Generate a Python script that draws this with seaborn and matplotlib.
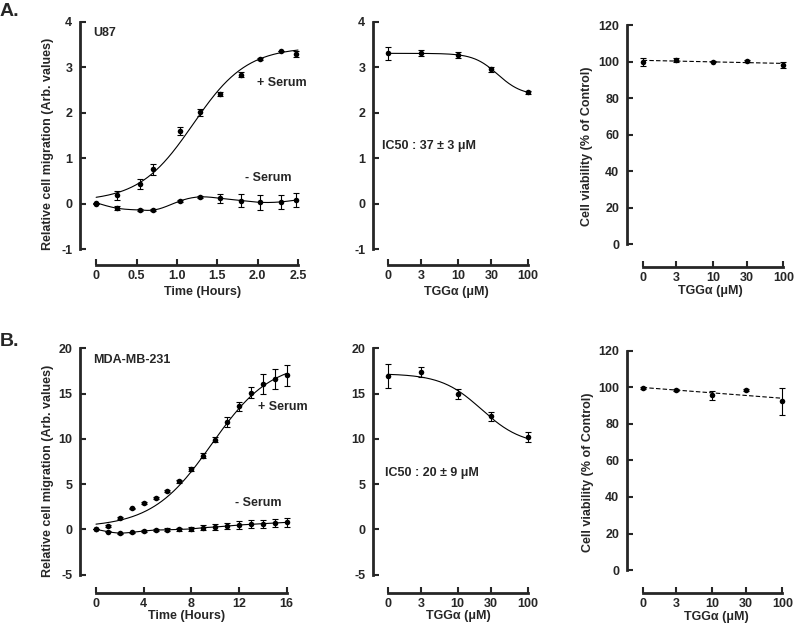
import numpy as np
import matplotlib
matplotlib.use("Agg")
import matplotlib.pyplot as plt
import seaborn as sns

# --- U87 time course ---
u87_time = [0, 0.26, 0.54, 0.71, 1.04, 1.29, 1.53, 1.79, 2.03, 2.29, 2.48]
u87_plus = [0.0, 0.19, 0.43, 0.76, 1.60, 2.01, 2.41, 2.84, 3.18, 3.36, 3.30]
u87_plus_err = [0, 0.10, 0.11, 0.12, 0.08, 0.07, 0.05, 0.05, 0.02, 0.0, 0.065]
u87_minus = [0.02, -0.10, -0.14, -0.14, 0.06, 0.15, 0.12, 0.07, 0.03, 0.04, 0.08]
u87_minus_err = [0, 0.05, 0.03, 0.02, 0.02, 0.02, 0.095, 0.15, 0.16, 0.16, 0.16]
u87_fit = {"bottom": 0.05, "top": 3.45, "mid": 1.2, "slope": 3.0}

# --- MDA-MB-231 time course ---
mda_time = list(range(17))
mda_plus = [0.0, 0.36, 1.21, 2.31, 2.9, 3.42, 4.22, 5.3, 6.69, 8.11, 9.92,
            11.86, 13.6, 15.1, 16.05, 16.6, 17.0]
mda_plus_err = [0, 0.1, 0.1, 0.1, 0.1, 0.1, 0.15, 0.2, 0.25, 0.28, 0.3,
                0.5, 0.5, 0.64, 1.08, 1.07, 1.2]
mda_minus = [0.0, -0.26, -0.41, -0.33, -0.19, -0.08, -0.05, 0.0, 0.05, 0.18,
             0.26, 0.37, 0.48, 0.55, 0.62, 0.70, 0.77]
mda_minus_err = [0, 0.05, 0.05, 0.08, 0.1, 0.12, 0.15, 0.15, 0.2, 0.25, 0.3,
                 0.35, 0.4, 0.45, 0.45, 0.45, 0.5]
mda_fit = {"bottom": 0.2, "top": 18.6, "mid": 9.7, "slope": 0.40}

# --- dose response (TGG alpha) ---
doses = [0, 3, 10, 30, 100]
dose_labels = ["0", "3", "10", "30", "100"]
u87_dose_mig = [3.31, 3.31, 3.27, 2.96, 2.45]
u87_dose_err = [0.15, 0.066, 0.06, 0.06, 0.03]
u87_ic50_fit = {"top": 3.31, "bottom": 2.38, "ic50": 37, "hill": 2.5}
mda_dose_mig = [16.9, 17.4, 14.95, 12.5, 10.2]
mda_dose_err = [1.34, 0.55, 0.53, 0.5, 0.59]
mda_ic50_fit = {"top": 17.2, "bottom": 9.3, "ic50": 22, "hill": 1.5}

u87_viab = [99.8, 100.9, 100.0, 100.4, 98.0]
u87_viab_err = [2.2, 1.0, 0.5, 0.5, 1.8]
mda_viab = [99.7, 98.5, 95.7, 98.5, 92.4]
mda_viab_err = [0.5, 0.5, 2.4, 0.5, 7.3]

W, H = 794, 627
sns.set_style("ticks")
plt.rcParams["font.family"] = ["Liberation Sans", "DejaVu Sans"]
plt.rcParams["font.weight"] = "bold"
plt.rcParams["axes.labelweight"] = "bold"
plt.rcParams["axes.linewidth"] = 2.0
plt.rcParams["axes.unicode_minus"] = False

fig = plt.figure(figsize=(W / 100, H / 100), dpi=100)


def make_axes(left, right, top, bottom):
    return fig.add_axes([left / W, 1 - bottom / H, (right - left) / W, (bottom - top) / H])


def natural_spline(x, y, n=300):
    x = np.asarray(x, float)
    y = np.asarray(y, float)
    h = np.diff(x)
    m = len(x)
    A = np.zeros((m, m))
    r = np.zeros(m)
    A[0, 0] = A[-1, -1] = 1
    for i in range(1, m - 1):
        A[i, i - 1] = h[i - 1]
        A[i, i] = 2 * (h[i - 1] + h[i])
        A[i, i + 1] = h[i]
        r[i] = 6 * ((y[i + 1] - y[i]) / h[i] - (y[i] - y[i - 1]) / h[i - 1])
    M = np.linalg.solve(A, r)
    xs = np.linspace(x[0], x[-1], n)
    idx = np.clip(np.searchsorted(x, xs) - 1, 0, m - 2)
    x0, x1 = x[idx], x[idx + 1]
    hh = x1 - x0
    a = (x1 - xs) / hh
    b = (xs - x0) / hh
    ys = a * y[idx] + b * y[idx + 1] + ((a ** 3 - a) * M[idx] + (b ** 3 - b) * M[idx + 1]) * hh ** 2 / 6
    return xs, ys


def logistic(t, p):
    return p["bottom"] + (p["top"] - p["bottom"]) / (1 + np.exp(-p["slope"] * (t - p["mid"])))


def dose_response(d, p):
    return p["bottom"] + (p["top"] - p["bottom"]) / (1 + (d / p["ic50"]) ** p["hill"])


def points(ax, x, y, err):
    ax.errorbar(x, y, yerr=err, fmt="none", ecolor="black", elinewidth=0.8,
                capsize=2.3, capthick=0.8, clip_on=False, zorder=2)
    sns.scatterplot(x=x, y=y, color="black", s=16, linewidth=0, ax=ax,
                    zorder=3, clip_on=False)


def curve(ax, x, y, ls="-"):
    sns.lineplot(x=x, y=y, color="black", lw=0.8, ls=ls, ax=ax, sort=False,
                 estimator=None, zorder=1)
    for ln in ax.lines:
        ln.set_clip_on(False)


def style(ax, ybounds, xbounds, xlab_x, xlab_y, ylab_x=None):
    sns.despine(ax=ax)
    ax.spines["left"].set_bounds(*ybounds)
    ax.spines["bottom"].set_bounds(*xbounds)
    ax.tick_params(direction="in", length=4, width=1.5, labelsize=9)
    ax.tick_params(axis="x", pad=3.5)
    ax.tick_params(axis="y", pad=5.5)
    ax.tick_params(axis="x", which="minor", bottom=False)
    ax.xaxis.set_label_coords(xlab_x, xlab_y)
    if ylab_x is not None:
        ax.yaxis.set_label_coords(ylab_x, 0.5)


dose_pos = np.where(np.array(doses) == 0, 1, doses)  # 0 drawn at the log-axis origin
dose_fine = np.logspace(0, 2, 200)

# ---------------- Row A ----------------
ax = make_axes(80, 298, 22, 265)
t_fine = np.linspace(0, 2.5, 200)
curve(ax, t_fine, logistic(t_fine, u87_fit))
sx, sy = natural_spline(u87_time, u87_minus)
curve(ax, sx, sy)
points(ax, u87_time, u87_plus, u87_plus_err)
points(ax, u87_time, u87_minus, u87_minus_err)
ax.set_xlim(-0.2, 2.5)
ax.set_ylim(-1.35, 4)
ax.set_xticks([0, 0.5, 1.0, 1.5, 2.0, 2.5], ["0", "0.5", "1.0", "1.5", "2.0", "2.5"])
ax.set_yticks([-1, 0, 1, 2, 3, 4])
ax.set_xlabel("Time (Hours)", fontsize=9, va="top")
ax.set_ylabel("Relative cell migration (Arb. values)", fontsize=9)
style(ax, (-1, 4), (0, 2.5), 0.564, -0.088, -0.12)
ax.text(-0.04, 3.76, "U87", fontsize=9, va="center")
ax.text(1.99, 2.66, "+ Serum", fontsize=9, va="center")
ax.text(1.84, 0.56, "- Serum", fontsize=9, va="center")

ax = make_axes(373, 528, 22, 265)
curve(ax, dose_fine, dose_response(dose_fine, u87_ic50_fit))
points(ax, dose_pos, u87_dose_mig, u87_dose_err)
ax.set_xscale("log")
ax.set_xlim(0.61, 100)
ax.set_ylim(-1.35, 4)
ax.set_xticks(dose_pos, dose_labels)
ax.set_yticks([-1, 0, 1, 2, 3, 4])
ax.set_xlabel("TGG\u03b1 (\u03bcM)", fontsize=9)
style(ax, (-1, 4), (1, 100), 0.535, -0.088)
ax.text(0.82, 1.27, "IC50 : 37 \u00b1 3 \u03bcM", fontsize=9, va="center")

ax = make_axes(626.7, 783.3, 25, 266.7)
lin = np.polyfit(np.log10(dose_pos), u87_viab, 1)
curve(ax, dose_fine, np.polyval(lin, np.log10(dose_fine)), ls=(0, (4, 2)))
points(ax, dose_pos, u87_viab, u87_viab_err)
ax.set_xscale("log")
ax.set_xlim(0.592, 100)
ax.set_ylim(-12.3, 120)
ax.set_xticks(dose_pos, dose_labels)
ax.set_yticks(range(0, 121, 20))
ax.set_xlabel("TGG\u03b1 (\u03bcM)", fontsize=9)
ax.set_ylabel("Cell viability (% of Control)", fontsize=9)
style(ax, (0, 120), (1, 100), 0.537, -0.076, -0.213)

# ---------------- Row B ----------------
ax = make_axes(80, 286.7, 348.3, 592.7)
t_fine = np.linspace(0, 16, 200)
curve(ax, t_fine, logistic(t_fine, mda_fit))
sx, sy = natural_spline(mda_time, mda_minus)
curve(ax, sx, sy)
points(ax, mda_time, mda_plus, mda_plus_err)
points(ax, mda_time, mda_minus, mda_minus_err)
ax.set_xlim(-1.34, 16)
ax.set_ylim(-7.0, 20)
ax.set_xticks([0, 4, 8, 12, 16])
ax.set_yticks([-5, 0, 5, 10, 15, 20])
ax.set_xlabel("Time (Hours)", fontsize=9)
ax.set_ylabel("Relative cell migration (Arb. values)", fontsize=9)
style(ax, (-5, 20), (0, 16), 0.515, -0.072, -0.127)
ax.text(-0.25, 18.67, "MDA-MB-231", fontsize=9, va="center")
ax.text(13.6, 13.5, "+ Serum", fontsize=9, va="center")
ax.text(11.7, 2.87, "- Serum", fontsize=9, va="center")

ax = make_axes(373.3, 527.5, 348.3, 592.7)
curve(ax, dose_fine, dose_response(dose_fine, mda_ic50_fit))
points(ax, dose_pos, mda_dose_mig, mda_dose_err)
ax.set_xscale("log")
ax.set_xlim(0.622, 100)
ax.set_ylim(-7.0, 20)
ax.set_xticks(dose_pos, dose_labels)
ax.set_yticks([-5, 0, 5, 10, 15, 20])
ax.set_xlabel("TGG\u03b1 (\u03bcM)", fontsize=9)
style(ax, (-5, 20), (1, 100), 0.55, -0.072)
ax.text(0.91, 6.17, "IC50 : 20 \u00b1 9 \u03bcM", fontsize=9, va="center")

ax = make_axes(626.7, 782.3, 350.7, 593.3)
lin = np.polyfit(np.log10(dose_pos), mda_viab, 1)
curve(ax, dose_fine, np.polyval(lin, np.log10(dose_fine)), ls=(0, (4, 2)))
points(ax, dose_pos, mda_viab, mda_viab_err)
ax.set_xscale("log")
ax.set_xlim(0.59, 100)
ax.set_ylim(-12.7, 120)
ax.set_xticks(dose_pos, dose_labels)
ax.set_yticks(range(0, 121, 20))
ax.set_xlabel("TGG\u03b1 (\u03bcM)", fontsize=9)
ax.set_ylabel("Cell viability (% of Control)", fontsize=9)
style(ax, (0, 120), (1, 100), 0.574, -0.074, -0.213)

fig.text(0 / W, 1 - 12 / H, "A.", fontsize=14, va="center", ha="left")
fig.text(0 / W, 1 - 342 / H, "B.", fontsize=14, va="center", ha="left")

fig.savefig("out.png", dpi=100)
